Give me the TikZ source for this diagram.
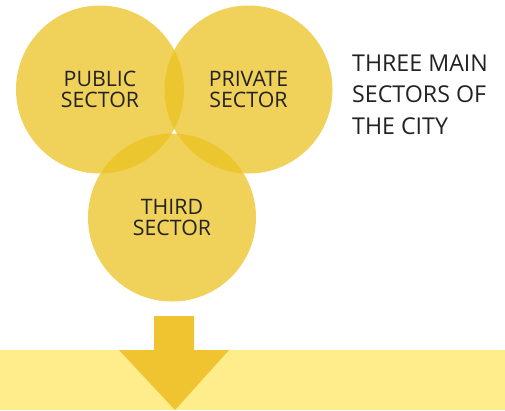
\documentclass[tikz,border=0pt]{standalone}
\usepackage{fontspec}
\setmainfont{Open Sans}
\begin{document}
\definecolor{sectorfill}{RGB}{234,193,29}
\definecolor{arrowfill}{RGB}{240,196,48}
\definecolor{bandfill}{RGB}{255,236,138}
\definecolor{inktext}{RGB}{34,34,34}
\begin{tikzpicture}[x=1pt,y=-1pt,
  sector/.style={circle, fill=sectorfill, fill opacity=0.73, text opacity=1,
    minimum size=168pt, inner sep=0pt, align=center, text=inktext,
    font=\fontsize{21.3}{21.5}\selectfont},
  caption/.style={anchor=north west, align=left, text=inktext, inner sep=0pt,
    font=\fontsize{23.2}{31.7}\selectfont}]
\useasboundingbox (0,0) rectangle (505,410);
% bottom band
\fill[bandfill] (0,350) rectangle (505,410);
% downward arrow
\fill[arrowfill] (154,316) -- (194,316) -- (194,350) -- (229,350) -- (175,410)
  -- (119,350) -- (154,350) -- cycle;
% three overlapping sectors
\node[sector] (public)  at (100,89.5)  {PUBLIC\\SECTOR};
\node[sector] (private) at (248.5,89.5){PRIVATE\\SECTOR};
\node[sector] (third)   at (172,217.5) {THIRD\\SECTOR};
% caption
\node[caption] (title) at (352,54.3) {THREE MAIN\\SECTORS OF\\THE CITY};
\end{tikzpicture}
\end{document}
